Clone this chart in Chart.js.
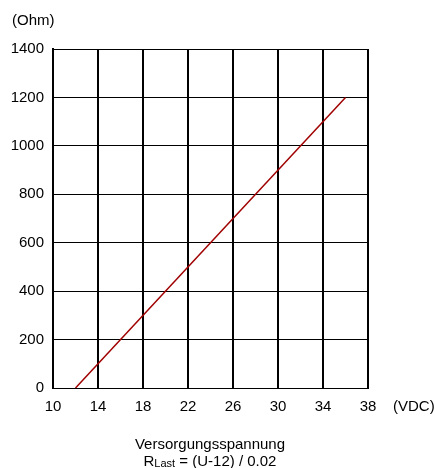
<!DOCTYPE html>
<html>
<head>
<meta charset="utf-8">
<script src="https://cdn.jsdelivr.net/npm/chart.js@4"></script>
<style>
  html, body { margin: 0; padding: 0; background: #fff; }
  #wrap { width: 435px; height: 468px; position: relative; }
</style>
</head>
<body>
<div id="wrap"><canvas id="chart"></canvas></div>
<script>
// voltage (VDC) and load resistance (Ohm): R = (U-12) / 0.02
const voltage = [12, 36];
const resistance = [0, 1200];
const xTicks = [10, 14, 18, 22, 26, 30, 34, 38];
const yTicks = [0, 200, 400, 600, 800, 1000, 1200, 1400];

const fontFamily = "'Liberation Sans', Arial, sans-serif";
Chart.defaults.font.family = fontFamily;
Chart.defaults.font.size = 15;
Chart.defaults.color = '#000';

const points = voltage.map((u, i) => ({ x: u, y: resistance[i] }));

// extra labels: units and the axis caption with formula
const labelsPlugin = {
  id: 'labels',
  afterDraw(chart) {
    const ctx = chart.ctx;
    const area = chart.chartArea;
    ctx.save();
    ctx.fillStyle = '#000';
    ctx.font = '15px ' + fontFamily;
    ctx.textBaseline = 'alphabetic';
    ctx.textAlign = 'left';
    ctx.fillText('(Ohm)', 12, 25);
    ctx.fillText('(VDC)', 393, area.bottom + 23);

    ctx.textAlign = 'center';
    ctx.fillText('Versorgungsspannung', 210, 449);

    // second line with subscript
    ctx.textAlign = 'left';
    const big = '15px ' + fontFamily;
    const small = '11px ' + fontFamily;
    ctx.font = big;
    const wR = ctx.measureText('R').width;
    const wRest = ctx.measureText(' = (U-12) / 0.02').width;
    ctx.font = small;
    const wSub = ctx.measureText('Last').width;
    let x = 210 - (wR + wSub + wRest) / 2;
    const y = 466;
    ctx.font = big;
    ctx.fillText('R', x, y);
    x += wR;
    ctx.font = small;
    ctx.fillText('Last', x, y + 1);
    x += wSub;
    ctx.font = big;
    ctx.fillText(' = (U-12) / 0.02', x, y);
    ctx.restore();
  }
};

new Chart(document.getElementById('chart'), {
  type: 'scatter',
  data: {
    datasets: [{
      data: points,
      showLine: true,
      borderColor: '#a00000',
      borderWidth: 1.5,
      pointRadius: 0
    }]
  },
  options: {
    responsive: true,
    maintainAspectRatio: false,
    animation: false,
    layout: { padding: { left: 0, top: 49, right: 67, bottom: 0 } },
    plugins: { legend: { display: false }, tooltip: { enabled: false } },
    scales: {
      x: {
        type: 'linear',
        min: xTicks[0],
        max: xTicks[xTicks.length - 1],
        afterBuildTicks: s => { s.ticks = xTicks.map(v => ({ value: v })); },
        afterFit: s => { s.height = 80; },
        ticks: { padding: 10, maxRotation: 0, callback: v => String(v) },
        grid: { color: '#000', lineWidth: 2, drawTicks: false },
        border: { color: '#000', width: 1 }
      },
      y: {
        type: 'linear',
        min: yTicks[0],
        max: yTicks[yTicks.length - 1],
        afterBuildTicks: s => { s.ticks = yTicks.map(v => ({ value: v })); },
        afterFit: s => { s.width = 53; },
        ticks: { padding: 9, callback: v => String(v) },
        grid: { color: '#000', lineWidth: 1, drawTicks: false },
        border: { color: '#000', width: 2 }
      }
    }
  },
  plugins: [labelsPlugin]
});
</script>
</body>
</html>
